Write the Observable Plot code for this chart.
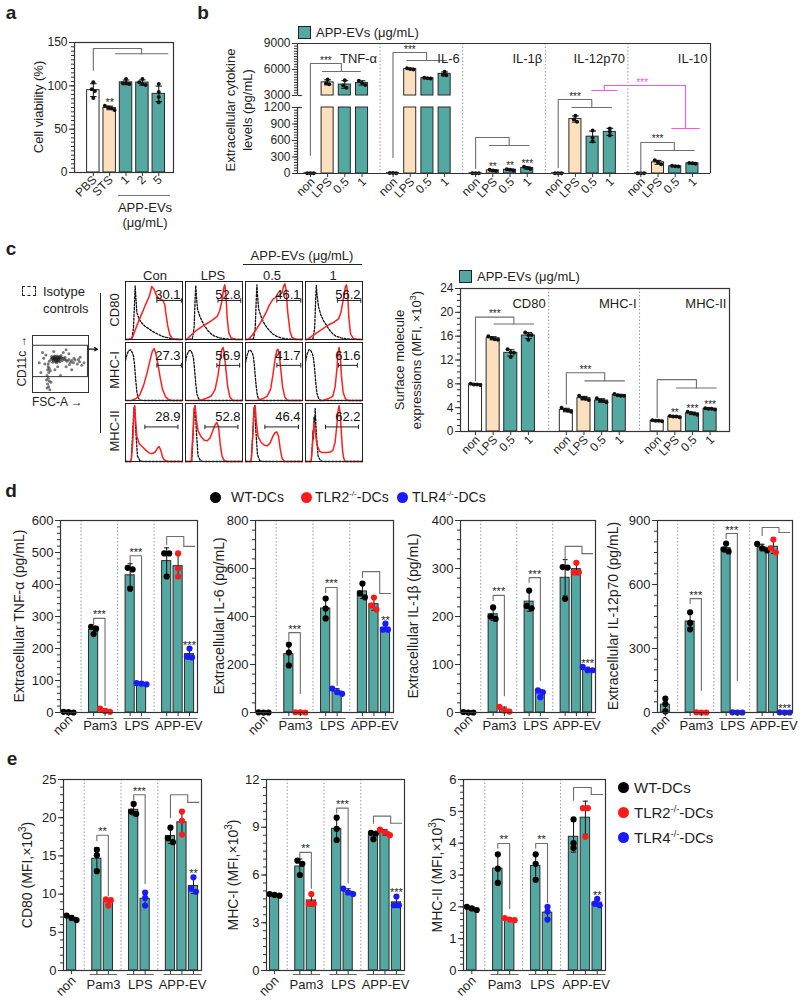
<!DOCTYPE html>
<html><head><meta charset="utf-8">
<script src="https://cdn.jsdelivr.net/npm/d3@7"></script>
<script src="https://cdn.jsdelivr.net/npm/@observablehq/plot@0.6"></script>
<style>
body{margin:0;background:#fff;}
#root{position:relative;width:800px;height:1003px;overflow:hidden;font-family:"Liberation Sans",Arial,Helvetica,sans-serif;color:#1e1e1e;background:#fff;}
#root svg{position:absolute;left:0;top:0;}
.t{position:absolute;white-space:nowrap;line-height:1;}
.ln{position:absolute;background:#222;}
.dt{position:absolute;border-radius:50%;}
</style></head><body><div id="root"></div>
<script>
// ---------------- DATA ----------------
// panel a
const aCats = ["PBS","STS","1","2","5"];
const aVals = [[104,96,94,86],[77,75,72,74],[108,103,103,102],[108,104,102,101],[102,93,81,87]];
// panel b
const bCyt = ["TNF-α","IL-6","IL-1β","IL-12p70","IL-10"];
const bTreat = ["non","LPS","0.5","1"];
const bTNF = [[6,4,5],[4850,4400,4300],[4750,4150,3900],[4700,4450,4200]];
const bIL6 = [[8,6,7],[6150,6000,6050],[5000,4950,5050],[5750,5400,5350]];
const bIL1b = [[5,4,6],[70,55,45],[78,70,55],[122,100,80]];
const bIL12 = [[6,4,5],[1050,980,940],[780,650,580],[820,760,690]];
const bIL10 = [[4,3,5],[240,200,170],[140,130,125],[192,185,178]];
const bTicks = [0,300,600,900,1200,3000,6000,9000];
// panel c (bar chart)
const cMol = ["CD80","MHC-I","MHC-II"];
const cCD80 = [[8.0,7.9,7.8,7.9],[16.0,15.7,15.4,15.5],[13.8,13.3,12.5,13.2],[16.6,16.2,15.4,16.2]];
const cMHCI = [[4.0,3.5,3.3,3.6],[6.0,5.6,5.3,5.5],[5.6,5.2,4.9,5.1],[6.3,6.1,6.0,6.0]];
const cMHCII = [[1.9,1.8,1.8,1.7],[2.6,2.5,2.5,2.4],[3.3,3.0,2.8,3.1],[3.9,3.8,3.8,3.7]];
// panel c (flow histograms): columns Con, LPS, 0.5, 1 ; points [x%, y%]
const fCols = ["Con","LPS","0.5","1"];
const fRows = ["CD80","MHC-I","MHC-II"];
const fNums = [["30.1","52.8","46.1","56.2"],["27.3","56.9","41.7","61.6"],["28.9","52.8","46.4","62.2"]];
const redCD80 = [
 [[0,0],[5,0],[12,3],[20,25],[28,45],[35,62],[42,78],[46,95],[50,90],[54,80],[58,74],[62,72],[66,70],[69,62],[71,45],[74,25],[78,8],[82,2],[90,0],[100,0]],
 [[0,0],[2,0],[10,8],[20,17],[30,24],[40,30],[50,37],[56,42],[60,52],[64,70],[67,92],[69,98],[71,80],[73,40],[76,12],[80,3],[88,0],[100,0]],
 [[0,0],[5,0],[12,8],[20,20],[28,33],[36,48],[42,62],[48,72],[54,76],[60,80],[64,84],[67,96],[69,100],[71,90],[74,50],[78,15],[82,3],[90,0],[100,0]],
 [[0,0],[3,0],[10,5],[20,12],[30,19],[40,26],[50,31],[58,37],[62,48],[66,70],[70,95],[72,98],[74,80],[76,40],[79,10],[84,2],[92,0],[100,0]]];
const dashCD80 = [
 [[0,0],[11,1],[14,20],[16,70],[17,96],[18,78],[20,48],[24,36],[29,29],[35,23],[40,20],[48,14],[58,9],[66,5],[75,3],[85,1],[100,0]],
 [[0,0],[12,1],[15,20],[17,75],[18,97],[19,80],[21,55],[25,42],[28,35],[33,25],[40,15],[46,9],[51,6],[60,3],[70,1],[100,0]],
 [[0,0],[14,1],[17,20],[19,75],[20,98],[21,80],[23,55],[27,42],[31,32],[37,22],[43,15],[48,10],[54,6],[62,3],[72,1],[100,0]],
 [[0,0],[13,1],[16,20],[18,75],[19,97],[20,82],[23,58],[27,44],[32,33],[37,25],[42,17],[48,10],[53,6],[62,3],[72,1],[100,0]]];
const redMHCI = [
 [[0,0],[10,0],[18,3],[25,10],[32,28],[38,50],[43,72],[47,88],[50,93],[53,85],[57,65],[61,40],[65,20],[70,7],[75,2],[82,0],[100,0]],
 [[0,0],[25,0],[35,3],[45,8],[52,20],[57,45],[61,75],[64,92],[66,95],[68,85],[71,55],[74,25],[78,6],[83,0],[100,0]],
 [[0,0],[20,0],[30,3],[38,8],[44,20],[48,45],[52,75],[55,90],[57,92],[59,85],[62,55],[65,25],[69,6],[74,0],[100,0]],
 [[0,0],[30,0],[40,3],[48,8],[52,25],[55,55],[57,85],[59,95],[61,80],[63,45],[66,15],[70,3],[75,0],[100,0]]];
const dashMHCI = [
 [[0,72],[3,84],[6,90],[9,91],[12,86],[14,80],[16,62],[18,36],[20,15],[22,5],[25,1],[30,0],[100,0]],
 [[0,70],[3,83],[6,89],[9,90],[12,84],[14,76],[16,55],[18,30],[20,12],[23,3],[27,0],[100,0]],
 [[0,68],[3,82],[6,90],[9,90],[12,85],[14,78],[16,58],[18,33],[20,14],[22,5],[26,1],[30,0],[100,0]],
 [[0,70],[3,84],[6,91],[9,90],[12,84],[14,76],[16,57],[18,32],[20,13],[23,4],[27,0],[100,0]]];
const redMHCII = [
 [[0,0],[10,0],[13,40],[15,90],[16,100],[18,70],[20,45],[24,32],[30,26],[36,20],[42,15],[47,14],[52,17],[56,24],[59,27],[62,20],[65,8],[68,3],[74,0],[100,0]],
 [[0,0],[10,0],[13,50],[15,95],[17,100],[19,75],[22,55],[27,45],[33,38],[38,37],[43,42],[48,55],[52,66],[55,70],[58,62],[61,30],[64,10],[67,3],[72,0],[100,0]],
 [[0,0],[10,0],[13,50],[15,95],[17,100],[19,70],[22,45],[27,35],[33,29],[38,28],[43,33],[48,45],[52,52],[55,53],[58,45],[61,22],[64,6],[68,0],[100,0]],
 [[0,0],[10,0],[13,40],[15,70],[17,55],[20,30],[25,18],[30,16],[38,16],[44,17],[48,20],[52,35],[55,65],[57,90],[59,100],[61,85],[63,50],[65,20],[67,6],[70,0],[100,0]]];
const dashMHCII = [
 [[0,0],[10,0],[13,60],[15,98],[16,100],[18,55],[21,10],[25,2],[30,0],[100,0]],
 [[0,0],[11,0],[14,60],[16,98],[17,100],[19,55],[22,10],[26,2],[30,0],[100,0]],
 [[0,0],[10,0],[13,55],[15,97],[16,100],[18,58],[21,12],[25,2],[30,0],[100,0]],
 [[0,0],[10,0],[12,30],[13,55],[14,40],[15,80],[16,60],[17,95],[19,50],[22,10],[26,2],[30,0],[100,0]]];
const fGateY = [70, 63, 62];
const fGateX = [[[55,98],[57,97],[55,97],[56,97]],[[55,98],[55,95],[55,97],[58,91]],[[34,92],[34,92],[34,93],[35,93]]];
// CD11c vs FSC-A events
const scatterPts = [[30,55],[33,58],[35,60],[37,56],[38,62],[40,58],[41,54],[42,60],[44,57],[45,62],[46,55],[47,59],[48,63],[50,58],[52,61],[53,56],[55,60],[36,53],[39,64],[43,52],[49,54],[51,65],[34,63],[57,58],[58,62],[60,57],[40,60],[42,57],[44,61],[46,58],[38,58],[48,60],
 [39,61],[41,63],[43,59],[45,56],[47,61],[37,59],[42,55],[44,64],[50,62],[36,61],
 [62,55],[65,58],[68,53],[70,56],[73,52],[76,57],[80,50],[84,54],[88,48],[92,52],[66,49],[74,60],[82,58],
 [28,45],[27,40],[29,35],[26,30],[28,25],[30,20],[27,15],[29,10],[31,5],[26,8],[33,18],[25,22],[32,38],[30,42],[28,50],
 [20,60],[22,50],[55,70],[65,68],[45,45],[60,45],[40,40],[15,35],[50,30],[70,40],[38,72],[24,66],[18,70],[60,75],[85,62],[12,52]];
const scatterGate = {x1:1, x2:99, y1:27, y2:82};
// panel d / e : order non-WT, Pam3-WT, Pam3-TLR2, LPS-WT, LPS-TLR4, APP-WT, APP-TLR2, APP-TLR4
const deGroups = ["non","Pam3","LPS","APP-EV"];
const dTNF  = [[1,0,2],[268,262,245],[12,5,2],[452,447,387],[92,88,90],[497,497,425],[497,450,425],[200,175,172]];
const dIL6  = [[0,1,0],[283,250,196],[1,0,1],[475,433,392],[100,85,78],[537,496,480],[479,446,429],[370,345,345]];
const dIL1b = [[0,1,0],[219,200,195],[12,4,2],[254,222,217],[46,42,32],[303,302,237],[312,292,292],[95,88,88]];
const dIL12 = [[65,40,5],[470,420,390],[0,1,0],[792,765,755],[0,1,0],[790,770,760],[811,770,750],[0,1,0]];
const eCD80 = [[6.6,6.9,7.2],[15.8,15.1,13.0],[9.3,9.2,8.5],[21.8,20.8,20.5],[10.2,9.5,8.5],[18.7,17.3,16.8],[20.8,19.6,17.8],[12.2,10.7,10.3]];
const eMHCI = [[4.8,4.75,4.7],[6.9,6.7,6.0],[4.8,4.2,4.2],[9.6,8.9,8.2],[5.15,4.9,4.8],[8.65,8.6,8.25],[8.85,8.7,8.5],[4.65,4.1,4.1]];
const eMHCII = [[2.0,1.95,1.9],[3.65,3.2,2.75],[1.65,1.6,1.58],[3.65,3.35,2.85],[2.0,1.85,1.6],[4.75,4.0,3.85],[5.1,5.1,4.2],[2.25,2.1,2.05]];
// significance bracket levels [pamTop,pamWT,pamKO,lpsTop,lpsWT,lpsKO,appTop,appLeft,appRight] and stars [pam,lps,appTLR4]
const sigTNF = [294,272,22, 490,469,100, 550,525,519], starTNF = ["***","***","***"];
const sigIL6 = [333,300,79, 521,500,113, 587,562,496], starIL6 = ["***","***","**"];
const sigIL1b = [244,233,35, 281,271,67, 346,320,331], starIL1b = ["***","***","***"];
const sigIL12 = [534,511,103, 839,816,150, 867,830,844], starIL12 = ["***","***","***"];
const sigCD80 = [17.7,17.0,9.8, 23.0,22.3,11.4, 23.0,20.0,22.0], starCD80 = ["**","***","**"];
const sigMHCI = [7.42,7.1,5.16, 10.2,9.9,5.5, 9.7,9.25,9.25], starMHCI = ["**","***","***"];
const sigMHCII = [3.99,3.84,1.95, 3.99,3.84,2.14, 5.75,5.35,5.53], starMHCII = ["**","**","**"];

// ---------------- STYLE / HELPERS ----------------
const TEAL = "#53a8a2", PEACH = "#fde0be", WHITE = "#ffffff";
const FONT = '"Liberation Sans", Arial, Helvetica, sans-serif';
const STYLE = {background:"none", overflow:"visible", fontFamily:FONT, fontSize:"12px", color:"#1e1e1e"};
const root = document.getElementById("root");
function frameM(x0,x1,y0,y1){return {width:800,height:1003,marginLeft:x0,marginRight:800-x1,marginTop:y0,marginBottom:1003-y1};}
function lab(html,x,y,o={}){const d=document.createElement("div");d.className="t";d.innerHTML=html;d.style.left=x+"px";d.style.top=y+"px";d.style.fontSize=(o.size||13)+"px";if(o.bold)d.style.fontWeight="bold";if(o.color)d.style.color=o.color;const ax=o.anchor==="start"?"0":o.anchor==="end"?"-100%":"-50%";d.style.transform=`translate(${ax},-50%)`+(o.rot?` rotate(${o.rot}deg)`:"");root.appendChild(d);}
function hline(x,y,w,c,h){const d=document.createElement("div");d.className="ln";d.style.left=x+"px";d.style.top=y+"px";d.style.width=w+"px";d.style.height=(h||1)+"px";if(c)d.style.background=c;root.appendChild(d);}
function vline(x,y,h,c){const d=document.createElement("div");d.className="ln";d.style.left=x+"px";d.style.top=y+"px";d.style.width="1px";d.style.height=h+"px";if(c)d.style.background=c;root.appendChild(d);}
function dotH(x,y,r,c){const d=document.createElement("div");d.className="dt";d.style.left=(x-r)+"px";d.style.top=(y-r)+"px";d.style.width=2*r+"px";d.style.height=2*r+"px";d.style.background=c;root.appendChild(d);}
function swatch(x,y){const d=document.createElement("div");d.style.cssText=`position:absolute;left:${x}px;top:${y}px;width:11px;height:11px;background:${TEAL};border:1px solid #222;`;root.appendChild(d);}
function grpB(xl,yl,yt,g,yg){const cx=(g[0]+g[1])/2;return [[[xl,yl],[xl,yt],[cx,yt],[cx,yg]],[[g[0],yg],[g[1],yg]]];}
function pairB(xa,ya,xb,yb,yt){return [[[xa,ya],[xa,yt],[xb,yt],[xb,yb]]];}
function safe(f){try{f();}catch(e){console.error(e);}}

function barChart(c){
  const T=c.yf||(v=>v);
  const base=c.yDomain[0], topV=c.yDomain[c.yDomain.length-1];
  const ys=d3.scaleLinear().domain([T(base),T(topV)]).range([c.y1,c.y0]);
  const xs=d3.scaleLinear().domain(c.xDomain).range([c.x0,c.x1]);
  const ux=Math.abs(xs(1)-xs(0));
  const bars=c.bars.map(b=>{const m=d3.mean(b.vals);const s=b.vals.length>1?d3.deviation(b.vals):0;return Object.assign({},b,{m,lo:T(m-s),hi:T(m+s),top:T(Math.max(m+s,d3.max(b.vals))),sd:s});});
  const pts=[];
  bars.forEach(b=>{
    const py=b.vals.map(v=>ys(T(v)));
    const order=d3.range(py.length).sort((i,j)=>py[i]-py[j]);
    const off=py.map(()=>0);
    let cl=[order[0]];
    const flush=()=>cl.forEach((i,k)=>{off[i]=(k-(cl.length-1)/2)*c.r*1.6/ux;});
    for(let k=1;k<order.length;k++){if(py[order[k]]-py[order[k-1]]<c.r*1.5)cl.push(order[k]);else{flush();cl=[order[k]];}}
    flush();
    b.vals.forEach((v,i)=>pts.push({x:b.pos+off[i],y:T(v),fill:b.dot||"#111"}));
  });
  let rects=[];
  if(c.brk){bars.forEach(b=>{rects.push(Object.assign({},b,{y1:T(base),y2:T(Math.min(b.m,c.brk[0]))}));if(b.m>c.brk[1])rects.push(Object.assign({},b,{y1:T(c.brk[1]),y2:T(b.m)}));});}
  else rects=bars.map(b=>Object.assign({},b,{y1:T(base),y2:T(b.m)}));
  const hw=c.hw, AX="#333";
  const marks=[];
  if(c.dividers)marks.push(Plot.ruleX(c.dividers,{stroke:"#9a9a9a",strokeDasharray:"1.5,2",strokeWidth:1}));
  marks.push(Plot.rect(rects,{x1:d=>d.pos-hw,x2:d=>d.pos+hw,y1:"y1",y2:"y2",fill:d=>d.fill,stroke:"#2a2a2a",strokeWidth:1}));
  const eb=bars.filter(b=>b.sd>1e-9);
  marks.push(Plot.ruleX(eb,{x:"pos",y1:"lo",y2:"hi",stroke:"#111",strokeWidth:1}));
  marks.push(Plot.link(eb,{x1:d=>d.pos-c.cap,x2:d=>d.pos+c.cap,y1:"hi",y2:"hi",stroke:"#111",strokeWidth:1}));
  marks.push(Plot.link(eb,{x1:d=>d.pos-c.cap,x2:d=>d.pos+c.cap,y1:"lo",y2:"lo",stroke:"#111",strokeWidth:1}));
  marks.push(Plot.dot(pts,{x:"x",y:"y",r:c.r,fill:"fill",stroke:"none"}));
  if(c.brk){
    marks.push(Plot.ruleY([T(topV)],{stroke:AX,strokeWidth:1.2}));
    marks.push(Plot.ruleY([T(base)],{stroke:AX,strokeWidth:1.2}));
    marks.push(Plot.ruleX([c.xDomain[1]],{stroke:AX,strokeWidth:1.2}));
    marks.push(Plot.ruleX([c.xDomain[0]],{y1:T(base),y2:T(c.brk[0]),stroke:AX,strokeWidth:1.2}));
    marks.push(Plot.ruleX([c.xDomain[0]],{y1:T(c.brk[1]),y2:T(topV),stroke:AX,strokeWidth:1.2}));
    marks.push(Plot.link(c.brk,{x1:c.xDomain[0],x2:c.xDomain[0]+0.25,y1:d=>T(d),y2:d=>T(d),stroke:AX,strokeWidth:1.2}));
  } else marks.push(Plot.frame({stroke:AX,strokeWidth:1.2}));
  const fmt=c.yfInv?(d=>String(Math.round(c.yfInv(d)))):(d=>String(d));
  marks.push(Plot.axisY(c.yTicks.map(T),{tickSize:5,tickPadding:2,fontSize:c.tickFont||12,stroke:AX,label:null,tickFormat:fmt}));
  if(c.yMinor)marks.push(Plot.axisY(c.yMinor.map(T),{tickSize:3,stroke:AX,label:null,tickFormat:()=>""}));
  marks.push(Plot.axisX(bars.map(b=>b.pos),{tickSize:4,stroke:AX,label:null,tickFormat:()=>""}));
  const brRows=[];
  (c.brackets||[]).forEach((b,bi)=>b.segs.forEach((seg,si)=>seg.forEach(([x,y])=>brRows.push({x,y:T(y),id:bi+"-"+si,color:b.color||"#6e6e6e"}))));
  if(brRows.length)marks.push(Plot.line(brRows,{x:"x",y:"y",z:"id",stroke:"color",strokeWidth:1.1}));
  const st=(c.stars||[]).map(s=>Object.assign({color:"#222"},s,{y:T(s.y)}));
  (c.barStars||[]).forEach(s=>{const b=bars[s.bar];st.push({x:b.pos,y:b.top,text:s.text,color:"#222"});});
  if(st.length)marks.push(Plot.text(st,{x:"x",y:"y",text:"text",fill:"color",lineAnchor:"bottom",fontSize:c.starSize||10}));
  if(c.xLabels)marks.push(Plot.text(c.xLabels,{x:"x",text:"text",frameAnchor:"bottom",rotate:-45,textAnchor:"end",dx:c.xlab.dx,dy:c.xlab.dy,fontSize:c.xlab.size}));
  if(c.groupTitles)marks.push(Plot.text(c.groupTitles,{x:"x",text:"text",frameAnchor:"top",textAnchor:"end",dx:-3,dy:10,fontSize:13}));
  if(c.groupLabels){
    marks.push(Plot.text(c.groupLabels,{x:d=>(d.x1+d.x2)/2,text:"text",frameAnchor:"bottom",dy:c.gl.dy,fontSize:c.gl.size}));
    marks.push(Plot.link(c.groupLabels,{x1:"x1",x2:"x2",y1:T(base),y2:T(base),dy:c.gl.ul,stroke:"#666",strokeWidth:1}));
  }
  const svg=Plot.plot(Object.assign(frameM(c.x0,c.x1,c.y0,c.y1),{style:STYLE,x:{domain:c.xDomain,axis:null,label:null},y:{domain:[T(base),T(topV)],axis:null,label:null},color:{type:"identity"},marks}));
  root.appendChild(svg);
}

// ---------------- PANEL a ----------------
safe(()=>{
  const fills=[WHITE,PEACH,TEAL,TEAL,TEAL];
  barChart({x0:74,x1:173,y0:42,y1:172,xDomain:[-1.15,4.9],yDomain:[0,150],yTicks:[0,50,100,150],yMinor:d3.range(0,151,5),
    hw:0.38,cap:0.2,r:2,starSize:11,
    bars:aVals.map((v,i)=>({pos:i,vals:v,fill:fills[i]})),
    xLabels:aCats.map((t,i)=>({x:i,text:t})),xlab:{dx:4,dy:8,size:12},
    brackets:[{segs:grpB(0,118,143,[1.35,4.55],137)}],
    barStars:[{bar:1,text:"**"}]});
});
lab("a",11,12,{size:19,bold:true});
lab("Cell viability (%)",38,107,{rot:-90,size:13});
hline(118,195,52,"#777");
lab("APP-EVs",145,207,{size:13});
lab("(μg/mL)",145,222,{size:13});

// ---------------- PANEL b (broken axis: 0-1200 lower, gap, 3000-9000 upper) ----------------
safe(()=>{
  const G=4.8, all=[bTNF,bIL6,bIL1b,bIL12,bIL10], fills=[WHITE,PEACH,TEAL,TEAL];
  const GAP=218, K=0.1576;
  const bf=v=>v<=1200?v:(v<3000?1200+(v-1200)/1800*GAP:1200+GAP+(v-3000)*K);
  const bfInv=t=>t<=1200?t:(t<1200+GAP?1200+(t-1200)/GAP*1800:3000+(t-1200-GAP)/K);
  const bars=[], xl=[];
  all.forEach((grp,g)=>grp.forEach((v,j)=>{bars.push({pos:g*G+j,vals:v,fill:fills[j]});xl.push({x:g*G+j,text:bTreat[j]});}));
  const gl=(g)=>[g*G+0.8,g*G+3.1];
  const mL=[3*G+1.95,3*G+3.4], mR=[4*G+1.8,4*G+3.4], cL=(mL[0]+mL[1])/2, cR=(mR[0]+mR[1])/2;
  const tnfG=[0.7,2.9];
  barChart({x0:297,x1:710,y0:43,y1:173,xDomain:[-0.75,5*G-0.75],yDomain:[0,9000],yf:bf,yfInv:bfInv,brk:[1200,3000],
    yTicks:bTicks,yMinor:d3.range(0,1201,50).concat(d3.range(3000,9001,300)),
    hw:0.35,cap:0.2,r:2,starSize:10,bars,
    dividers:[1,2,3,4].map(g=>g*G-0.75),
    xLabels:xl,xlab:{dx:5,dy:9,size:12},
    groupTitles:bCyt.map((t,g)=>({x:g*G+4.05,text:t})),
    brackets:[{segs:grpB(0,330,6690,tnfG,5770)},{segs:grpB(G,290,7960,gl(1),7040)},{segs:grpB(2*G,90,655,gl(2),509)},
      {segs:grpB(3*G,110,2400,gl(3),1200)},{segs:grpB(4*G,20,564,gl(4),418)},
      {color:"#ff52dd",segs:[[[cL,3577],[cL,4150],[cR,4150],[cR,818]],[[mL[0],3577],[mL[1],3577]],[[mR[0],818],[mR[1],818]]]}],
    stars:[{x:(0+(tnfG[0]+tnfG[1])/2)/2,y:6690,text:"***"},{x:G+0.98,y:7960,text:"***"},{x:3*G+0.98,y:2400,text:"***"},{x:4*G+0.98,y:564,text:"***"},
      {x:(cL+cR)/2-0.15,y:4150,text:"***",color:"#ff52dd"}],
    barStars:[{bar:9,text:"**"},{bar:10,text:"**"},{bar:11,text:"***"}]});
});
lab("b",203,12,{size:19,bold:true});
swatch(298,26);
lab("APP-EVs (μg/mL)",316,32,{size:13,anchor:"start"});
lab("Extracellular cytokine",230,110,{rot:-90,size:13});
lab("levels (pg/mL)",247,110,{rot:-90,size:13});

// ---------------- PANEL c (flow) ----------------
safe(()=>{
  const lines=[], gates=[], nums=[];
  [[redCD80,dashCD80],[redMHCI,dashMHCI],[redMHCII,dashMHCII]].forEach(([red,dash],ri)=>fCols.forEach((col,ci)=>{
    red[ci].forEach(([x,y])=>lines.push({col,row:fRows[ri],x,y,k:"r"+ri+ci,t:"r"}));
    dash[ci].forEach(([x,y])=>lines.push({col,row:fRows[ri],x,y,k:"d"+ri+ci,t:"d"}));
    const g=fGateX[ri][ci];
    gates.push({col,row:fRows[ri],x1:g[0],x2:g[1],y:fGateY[ri]});
    nums.push({col,row:fRows[ri],text:fNums[ri][ci]});
  }));
  const fo={fx:"col",fy:"row"};
  const svg=Plot.plot(Object.assign(frameM(123,363,281,461),{style:STYLE,
    x:{domain:[0,100],axis:null},y:{domain:[0,104],axis:null},
    fx:{domain:fCols,paddingInner:0.05,paddingOuter:0,axis:null},fy:{domain:fRows,paddingInner:0.05,paddingOuter:0,axis:null},
    marks:[
      Plot.line(lines.filter(d=>d.t==="d"),Object.assign({x:"x",y:"y",z:"k",stroke:"#111",strokeWidth:1.3,strokeDasharray:"2,1.6"},fo)),
      Plot.line(lines.filter(d=>d.t==="r"),Object.assign({x:"x",y:"y",z:"k",stroke:"#ff1f1f",strokeWidth:1.5},fo)),
      Plot.link(gates,Object.assign({x1:"x1",x2:"x2",y1:"y",y2:"y",stroke:"#222",strokeWidth:1},fo)),
      Plot.link(gates,Object.assign({x1:"x1",x2:"x1",y1:d=>d.y-4,y2:d=>d.y+4,stroke:"#222",strokeWidth:1},fo)),
      Plot.link(gates,Object.assign({x1:"x2",x2:"x2",y1:d=>d.y-4,y2:d=>d.y+4,stroke:"#222",strokeWidth:1},fo)),
      Plot.text(nums,Object.assign({text:"text",frameAnchor:"top-right",dx:-2,dy:8,fontSize:13,fill:"#111"},fo)),
      Plot.frame({stroke:"#222",strokeWidth:1})
    ]}));
  root.appendChild(svg);
});
safe(()=>{
  const pts=scatterPts.map(([x,y])=>({x,y}));
  const svg=Plot.plot(Object.assign(frameM(32,88,335,392),{style:STYLE,
    x:{domain:[0,100],axis:null},y:{domain:[0,100],axis:null},
    marks:[
      Plot.dot(pts,{x:"x",y:"y",r:1.5,fill:"#222",fillOpacity:0.6,stroke:"none"}),
      Plot.rect([scatterGate],{x1:"x1",x2:"x2",y1:"y1",y2:"y2",fill:"none",stroke:"#333",strokeWidth:1}),
      Plot.arrow([scatterGate],{x1:"x2",y1:76,x2:d=>d.x2+17,y2:76,stroke:"#111",strokeWidth:1.2,headLength:6}),
      Plot.frame({stroke:"#333",strokeWidth:1})
    ]}));
  root.appendChild(svg);
});
lab("c",11,248,{size:19,bold:true});
lab("APP-EVs (μg/mL)",302,255,{size:13});
hline(243,264,119,"#222");
lab("Con",155,275,{size:13});lab("LPS",213,275,{size:13});lab("0.5",272,275,{size:13});lab("1",333,275,{size:13});
lab("CD80",114,310,{rot:-90,size:13});lab("MHC-I",114,370,{rot:-90,size:13});lab("MHC-II",114,431,{rot:-90,size:13});
vline(100,293,140,"#222");
(function(){const d=document.createElement("div");d.style.cssText="position:absolute;left:22px;top:286px;width:12px;height:8px;border:1.5px dashed #222;";root.appendChild(d);})();
lab("Isotype",43,291,{size:13,anchor:"start"});
lab("controls",43,308,{size:13,anchor:"start"});
lab("CD11c →",22,361,{rot:-90,size:12});
lab("FSC-A →",32,402,{size:12,anchor:"start"});

// ---------------- PANEL c (bars) ----------------
safe(()=>{
  const G=5.15, all=[cCD80,cMHCI,cMHCII], fills=[WHITE,PEACH,TEAL,TEAL];
  const bars=[], xl=[];
  all.forEach((grp,g)=>grp.forEach((v,j)=>{bars.push({pos:g*G+j,vals:v,fill:fills[j]});xl.push({x:g*G+j,text:bTreat[j]});}));
  barChart({x0:460,x1:729,y0:288,y1:431,xDomain:[-0.85,14.4],yDomain:[0,24],yTicks:[0,4,8,12,16,20,24],yMinor:d3.range(0,25,1),
    hw:0.37,cap:0.2,r:2,starSize:10,bars,
    dividers:[G-1.0,2*G-1.0],
    xLabels:xl,xlab:{dx:5,dy:9,size:12},
    groupTitles:[{x:G-1.0,text:cMol[0]},{x:2*G-1.0,text:cMol[1]},{x:14.4,text:cMol[2]}],
    brackets:[{segs:grpB(0,8.5,19.2,[1.05,3.3],18.05)},{segs:grpB(G,4.6,9.85,[G+1.05,G+3.3],8.5)},{segs:grpB(2*G,2.3,8.7,[2*G+1.1,2*G+3.35],7.3)}],
    stars:[{x:1.09,y:19.2,text:"***"},{x:G+1.09,y:9.85,text:"***"}],
    barStars:[{bar:9,text:"**"},{bar:10,text:"***"},{bar:11,text:"***"}]});
});
swatch(459,270);
lab("APP-EVs (μg/mL)",477,276,{size:13,anchor:"start"});
lab("Surface molecule",399,360,{rot:-90,size:13});
lab("expressions (MFI, ×10<sup style='font-size:9px'>3</sup>)",416,360,{rot:-90,size:13});

// ---------------- PANELS d / e ----------------
const P=[0,2.2,3.2,5.4,6.4,8.6,9.6,10.6];
const GDOT=["#000","#000","#ff1a1a","#000","#1a1aff","#000","#ff1a1a","#1a1aff"];
function dePanel(fr,vals,yDomain,yTicks,yMinor,lv,st,gl,xlab){
  const segs=[...pairB(2.2,lv[1],3.2,lv[2],lv[0]),...pairB(5.4,lv[4],6.4,lv[5],lv[3]),
    [[8.6,lv[7]],[8.6,lv[6]],[10.1,lv[6]],[10.1,lv[8]]],[[10.1,lv[8]],[11.05,lv[8]]]];
  barChart({x0:fr[0],x1:fr[1],y0:fr[2],y1:fr[3],xDomain:[-0.7,11.3],yDomain,yTicks,yMinor,hw:0.4,cap:0.22,r:3.1,starSize:11,tickFont:13,
    bars:vals.map((v,i)=>({pos:P[i],vals:v,fill:TEAL,dot:GDOT[i]})),
    dividers:[1.1,4.3,7.5],brackets:[{segs}],
    stars:[{x:2.7,y:lv[0],text:st[0]},{x:5.9,y:lv[3],text:st[1]}],
    barStars:[{bar:7,text:st[2]}],
    xLabels:[{x:0,text:deGroups[0]}],xlab:xlab,
    groupLabels:[{text:deGroups[1],x1:1.6,x2:3.95},{text:deGroups[2],x1:4.8,x2:7.15},{text:deGroups[3],x1:8.0,x2:11.3}],gl});
}
const dGL={dy:17,ul:6,size:13}, dXL={dx:5,dy:8,size:13};
safe(()=>dePanel([60,197,520,712],dTNF,[0,600],d3.range(0,601,100),d3.range(0,601,20),sigTNF,starTNF,dGL,dXL));
safe(()=>dePanel([255,393,520,712],dIL6,[0,800],d3.range(0,801,200),d3.range(0,801,40),sigIL6,starIL6,dGL,dXL));
safe(()=>dePanel([460,595,520,712],dIL1b,[0,400],d3.range(0,401,100),d3.range(0,401,20),sigIL1b,starIL1b,dGL,dXL));
safe(()=>dePanel([657,792,520,712],dIL12,[0,900],d3.range(0,901,300),d3.range(0,901,50),sigIL12,starIL12,dGL,dXL));
lab("d",11,490,{size:19,bold:true});
dotH(215,497,5.5,"#000");lab("WT-DCs",231,497,{size:14,anchor:"start"});
dotH(306,497,5.5,"#ff1a1a");lab("TLR2<sup style='font-size:8px'>-/-</sup>-DCs",315,497,{size:14,anchor:"start"});
dotH(402,497,5.5,"#1a1aff");lab("TLR4<sup style='font-size:8px'>-/-</sup>-DCs",412,497,{size:14,anchor:"start"});
lab("Extracellular TNF-α (pg/mL)",19,616,{rot:-90,size:14});
lab("Extracellular IL-6 (pg/mL)",219,616,{rot:-90,size:14});
lab("Extracellular IL-1β (pg/mL)",413,616,{rot:-90,size:14});
lab("Extracellular IL-12p70 (pg/mL)",613,616,{rot:-90,size:14});

const eGL={dy:18,ul:4,size:13}, eXL={dx:5,dy:11,size:13};
safe(()=>dePanel([63,201,779,970],eCD80,[0,25],d3.range(0,26,5),d3.range(0,26,1),sigCD80,starCD80,eGL,eXL));
safe(()=>dePanel([266,404,779,970],eMHCI,[0,12],d3.range(0,13,3),d3.range(0,12.01,0.5),sigMHCI,starMHCI,eGL,eXL));
safe(()=>dePanel([463,605,779,970],eMHCII,[0,6],d3.range(0,7,1),d3.range(0,6.01,0.2),sigMHCII,starMHCII,eGL,eXL));
lab("e",12,758,{size:19,bold:true});
lab("CD80 (MFI,×10<sup style='font-size:10px'>3</sup>)",26,875,{rot:-90,size:14});
lab("MHC-I (MFI,×10<sup style='font-size:10px'>3</sup>)",232,875,{rot:-90,size:14});
lab("MHC-II (MFI,×10<sup style='font-size:10px'>3</sup>)",436,875,{rot:-90,size:14});
dotH(623,787,5.5,"#000");lab("WT-DCs",634,787,{size:15,anchor:"start"});
dotH(623,812,5.5,"#ff1a1a");lab("TLR2<sup style='font-size:9px'>-/-</sup>-DCs",634,812,{size:15,anchor:"start"});
dotH(623,837,5.5,"#1a1aff");lab("TLR4<sup style='font-size:9px'>-/-</sup>-DCs",634,837,{size:15,anchor:"start"});
</script></body></html>
